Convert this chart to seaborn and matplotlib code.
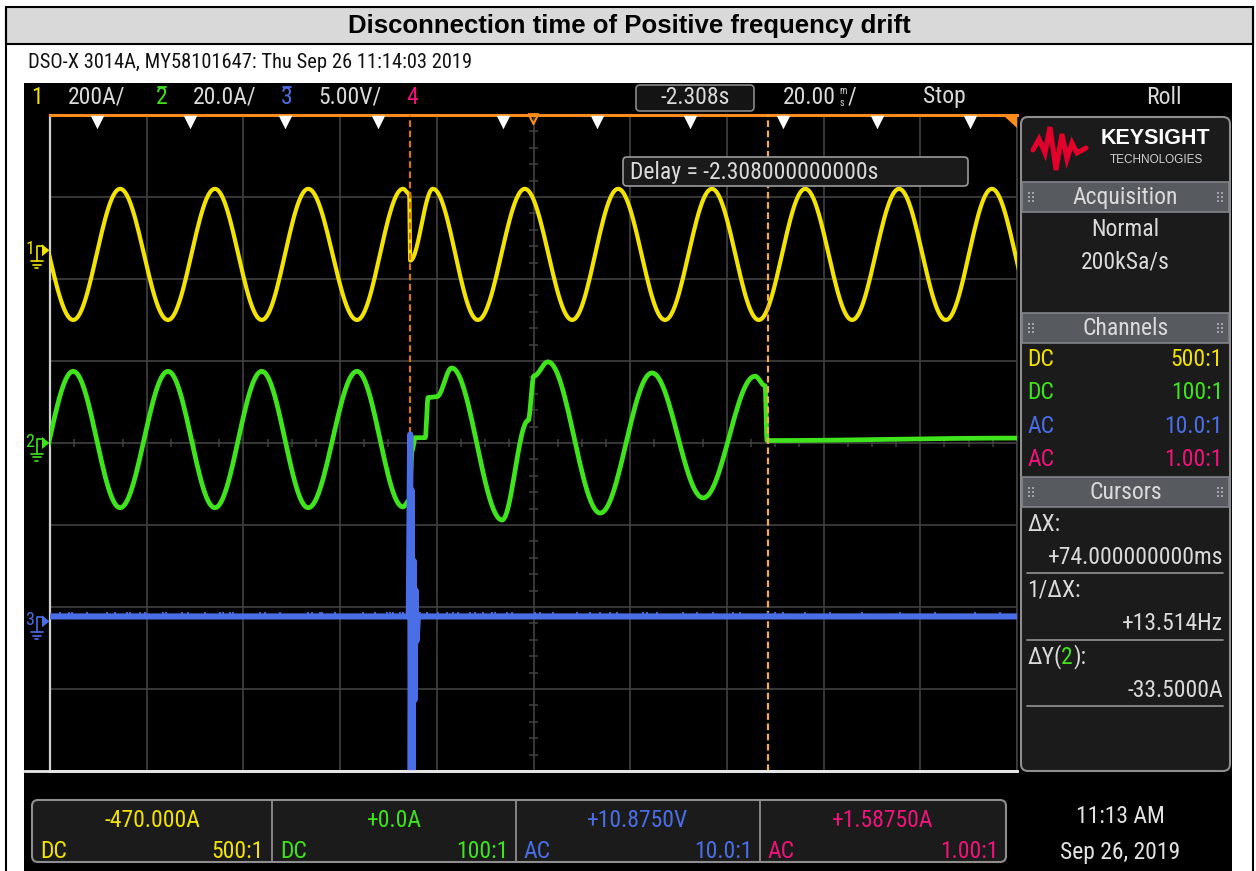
import numpy as np
import pandas as pd
import matplotlib
matplotlib.use("Agg")
import matplotlib.pyplot as plt
import seaborn as sns
from matplotlib import font_manager as fm
from matplotlib.patches import FancyBboxPatch, Rectangle, Polygon

# ---------------- instrument settings ----------------
title = "Disconnection time of Positive frequency drift"
header_text = "DSO-X 3014A, MY58101647: Thu Sep 26 11:14:03 2019"
clock_time = "11:13 AM"
clock_date = "Sep 26, 2019"

channels = ["1", "2", "3", "4"]
ch_colors = ["#f2e205", "#3fe41c", "#4a6ee6", "#f0157a"]
ch_units = ["A", "A", "V", "A"]
ch_scale = [200.0, 20.0, 5.0, 1.0]             # units per division
ch_scale_labels = ["200A/", "20.0A/", "5.00V/", ""]
ch_offset = [-470.0, 0.0, 10.875, 1.5875]      # value at screen centre
ch_offset_decimals = [3, 1, 4, 5]
ch_coupling = ["DC", "DC", "AC", "AC"]
ch_probe = ["500:1", "100:1", "10.0:1", "1.00:1"]

timebase_ms = 20.0
delay_s = -2.308
acq_mode = "Normal"
sample_rate = "200kSa/s"
run_state = "Stop"
sweep_mode = "Roll"
cursor_x1_ms = -25.6
cursor_x2_ms = 48.4
cursor_dy2 = -33.5

# ---------------- traces (turning points, time in ms) ----------------
# channel 1 (yellow, A)
ch1_t = [-105.2, -95.2, -85.5, -75.6, -65.9, -56.2, -46.6, -36.5, -27.0, -25.7,
         -25.5, -20.8, -11.5, -1.8, 8.0, 17.5, 27.2, 36.9, 46.6, 56.2, 65.9,
         75.6, 85.3, 94.8, 104.5]
ch1_v = [150, -170, 150, -170, 150, -170, 150, -170, 150, 138,
         -25, 150, -170, 150, -170, 150, -170, 150, -170, 150, -170,
         150, -170, 150, -170]

# channel 2 (green, A)
ch2_t = [-105.0, -95.2, -85.5, -75.6, -65.9, -56.2, -46.6, -36.5, -27.0, -25.7,
         -25.1, -24.5, -22.4, -21.8, -20.0, -16.9, -6.5, -1.1, 0.1, 3.0, 13.8,
         24.5, 35.1, 45.8, 47.9, 48.3, 100.0]
ch2_v = [-15.8, 17.5, -15.8, 17.5, -15.8, 17.5, -15.8, 17.5, -15.6, -14.0,
         -1.8, 1.3, 1.3, 11.1, 11.3, 18.3, -18.8, 5.5, 16.4, 19.8, -17.1,
         17.1, -13.4, 16.3, 14.0, 0.6, 1.2]

# channel 3 (blue, V): resting level, transient at the disconnection, glitches
ch3_level = 0.3
ch3_burst_t = [-25.8, -25.5, -25.4, -25.2, -25.0, -24.8, -24.6, -24.4, -24.2, -23.9]
ch3_burst_v = [0.3, 11.4, -12.0, 8.0, -10.0, 3.7, -4.8, 1.9, -1.2, 0.3]
ch3_glitch_t = [-97.9, -96.1, -95.5, -92.4, -88.2, -86.6, -84.1, -83.5, -81.4, -80.4,
                -76.6, -76.0, -72.7, -71.5, -68.0, -64.8, -64.2, -62.8, -62.2, -56.6,
                -55.5, -52.4, -46.6, -45.8, -44.1, -43.7, -41.1, -35.3, -32.8, -30.3,
                -29.7, -29.1, -27.6, -27.0, -23.5, -22.0, -19.8, -17.9, -16.7, -15.6,
                -13.2, -12.1, -10.4, -8.6, -8.0, -5.5, -4.4, 0.3, 1.3, 4.0, 9.0,
                11.7, 13.8, 15.8, 17.3, 22.6, 23.5, 25.5, 30.9, 33.8, 37.1, 41.3,
                42.7, 48.5, 50.0, 51.6, 56.2, 61.3, 68.0, 75.8, 83.0, 91.3, 96.5]
ch3_glitch_h = 0.3

# markers along the top edge (ms)
edge_marks_t = [-90.3, -71.0, -51.4, -32.1, -6.3, 13.2, 32.4, 51.6, 71.0, 90.3]

# ---------------- look ----------------
W, H = 1256, 871
GX0, GX1, GY0, GY1 = 50, 1017, 115, 771
NDY = 8
DIV_Y = (GY1 - GY0) / NDY
GYC = (GY0 + GY1) / 2
TXT = "#dadada"
GRID = "#404040"
ORANGE = "#ff8c1a"

sns.set_theme(style="dark", rc={"axes.facecolor": "black", "figure.facecolor": "white"})
plt.rcParams["font.family"] = ["DejaVu Sans"]


def find_narrow():
    names = {f.name for f in fm.fontManager.ttflist}
    for n in ["Liberation Sans Narrow", "Roboto Condensed", "Open Sans Condensed",
              "DejaVu Sans Condensed", "Noto Sans Condensed"]:
        if n in names:
            return {"family": n}, 1.0
    for f in fm.fontManager.ttflist:
        if f.name in ("DejaVu Sans", "Roboto", "Open Sans", "Noto Sans", "Liberation Sans") \
                and str(f.stretch) in ("condensed", "semi-condensed", "extra-condensed"):
            return {"family": f.name, "fontstretch": f.stretch}, 0.92
    return {"family": "Liberation Sans"}, 0.82


NARROW, FS = find_narrow()

fig = plt.figure(figsize=(W / 100, H / 100), dpi=100, facecolor="white")


def px_axes(z):
    a = fig.add_axes([0, 0, 1, 1], zorder=z)
    a.set_xlim(0, W)
    a.set_ylim(H, 0)
    a.axis("off")
    a.patch.set_alpha(0)
    return a


bg = px_axes(0)
fg = px_axes(10)


def label(ax, x, y, s, color=TXT, size=17, ha="left", va="center", **kw):
    return ax.text(x, y, s, color=color, fontsize=size * FS, ha=ha, va=va, **NARROW, **kw)


def label_seq(ax, x, y, parts, size=17):
    r = fig.canvas.get_renderer()
    for s, c in parts:
        t = label(ax, x, y, s, color=c, size=size)
        x += t.get_window_extent(renderer=r).width
    return x


# ---------------- page frame and title ----------------
bg.add_patch(Rectangle((6, 7), 1247, 37, fc="#d9d9d9", ec="black", lw=1.5))
bg.plot([6, 6], [7, H], color="black", lw=1.5)
bg.plot([1253, 1253], [7, H], color="black", lw=1.5)
bg.text(629.5, 25.5, title, ha="center", va="center", fontsize=18.5,
        fontweight="bold", family="Liberation Sans", color="black")
label(bg, 28, 63, header_text, color="#111111", size=14.8)
bg.add_patch(Rectangle((24, 83), 1208, H - 83, fc="black", ec="none"))

# ---------------- top status line ----------------
HY = 97
for i, ch in enumerate(channels):
    label(fg, 37 + 125 * i, HY, ch, color=ch_colors[i], ha="center")
    if i in (1, 2):
        fg.plot([33 + 125 * i, 41 + 125 * i], [87, 87], color=ch_colors[i], lw=1.3)
    if ch_scale_labels[i]:
        label(fg, 68 + 125 * i, HY, ch_scale_labels[i])

fg.add_patch(FancyBboxPatch((636, 85), 118, 26, boxstyle="round,pad=0,rounding_size=4",
                            fc="#141414", ec="#8a8a8a", lw=1.2))
label(fg, 695, HY, f"{delay_s:.3f}s", ha="center")
r = fig.canvas.get_renderer()
tb = label(fg, 783, HY, f"{timebase_ms:.2f}")
xe = 783 + tb.get_window_extent(renderer=r).width
# stacked "ms" unit
label(fg, xe + 3, HY - 6, "m", size=7.2, va="center")
label(fg, xe + 4, HY + 6, "s", size=7.2, va="center")
label(fg, xe + 12, HY, "/")
label(fg, 923, HY, run_state)
label(fg, 1182, HY, sweep_mode, ha="right")

# ---------------- graticule ----------------
sc = fig.add_axes([GX0 / W, 1 - GY1 / H, (GX1 - GX0) / W, (GY1 - GY0) / H], zorder=5)
sc.set_facecolor("black")
sc.set_xlim(-100, 100)
sc.set_ylim(-4, 4)
sc.set_xticks(np.arange(-100, 101, 20))
sc.set_yticks(np.arange(-4, 5, 1))
sc.grid(True, color=GRID, lw=1.2)
sc.set_axisbelow(True)
sc.tick_params(length=0, labelbottom=False, labelleft=False)
for side, col, lw in [("left", "#cfcfcf", 1.6), ("bottom", "#e6e6e6", 2.0),
                      ("top", ORANGE, 2.2), ("right", GRID, 1.2)]:
    sc.spines[side].set_color(col)
    sc.spines[side].set_linewidth(lw)
    sc.spines[side].set_visible(True)

minor_x = [t for t in np.arange(-97.5, 100, 2.5) if abs(t % 20) > 1e-6 and abs(t % 5) < 1e-6]
sc.vlines(minor_x, -0.045, 0.045, color=GRID, lw=1.1, zorder=1)
minor_y = [v for v in np.arange(-3.8, 4.0, 0.2) if abs(v - round(v)) > 1e-6]
sc.hlines(minor_y, -0.9, 0.9, color=GRID, lw=1.1, zorder=1)


def smooth(knot_t, knot_v, n=28):
    ts, vs = [], []
    for i in range(len(knot_t) - 1):
        s = np.linspace(0, 1, n, endpoint=False)
        e = (1 - np.cos(np.pi * s)) / 2
        ts.append(knot_t[i] + (knot_t[i + 1] - knot_t[i]) * s)
        vs.append(knot_v[i] + (knot_v[i + 1] - knot_v[i]) * e)
    ts.append([knot_t[-1]])
    vs.append([knot_v[-1]])
    return np.concatenate(ts), np.concatenate(vs)


def to_div(v, ch):
    return (np.asarray(v, dtype=float) - ch_offset[ch]) / ch_scale[ch]


def draw_trace(t, v, ch, lw, z):
    df = pd.DataFrame({"time_ms": t, "divisions": to_div(v, ch)})
    sns.lineplot(data=df, x="time_ms", y="divisions", ax=sc, color=ch_colors[ch],
                 linewidth=lw, sort=False, estimator=None, legend=False, zorder=z,
                 solid_joinstyle="round", solid_capstyle="round")


t1, v1 = smooth(ch1_t, ch1_v)
draw_trace(t1, v1, 0, 3.0, 3)
t2, v2 = smooth(ch2_t, ch2_v)
draw_trace(t2, v2, 1, 3.4, 3)

t3 = [-100.0] + ch3_burst_t + [100.0]
v3 = [ch3_level] + ch3_burst_v + [ch3_level]
draw_trace(t3, v3, 2, 4.4, 6)
g0 = to_div(ch3_level, 2)
g1 = to_div(ch3_level + ch3_glitch_h, 2)
sc.vlines(ch3_glitch_t, g0, g1, color=ch_colors[2], lw=1.3, zorder=6)
sc.set_xlabel("")
sc.set_ylabel("")

# cursors
sc.axvline(cursor_x1_ms, color="#d8740f", lw=1.6, ls=(0, (3, 1.6)), zorder=4)
sc.axvline(cursor_x2_ms, color="#f7a94d", lw=1.6, ls=(0, (3, 1.6)), zorder=4)

# top edge markers
sc.scatter(edge_marks_t, [3.91] * len(edge_marks_t), marker="v", s=95, color="white",
           linewidths=0, clip_on=False, zorder=20)
sc.scatter([0], [3.95], marker="v", s=50, facecolors="none", edgecolors=ORANGE,
           linewidths=1.5, clip_on=False, zorder=20)
fg.add_patch(Polygon([[1004, 116], [1017, 116], [1017, 128]], closed=True, fc=ORANGE, ec="none"))
fg.plot([24, GX1], [GY1, GY1], color="#e6e6e6", lw=2.0)

# delay readout
fg.add_patch(FancyBboxPatch((623, 157), 345, 29, boxstyle="round,pad=0,rounding_size=4",
                            fc="#1a1a1a", ec="#9a9a9a", lw=1.2))
label(fg, 630, 172, f"Delay = {delay_s:.12f}s")

# ground reference markers
for i in range(3):
    gy = GYC - (0 - ch_offset[i]) / ch_scale[i] * DIV_Y
    c = ch_colors[i]
    label(fg, 30, gy - 1, channels[i], color=c, size=13, ha="center")
    fg.plot([36.5, 36.5, 43], [gy + 11, gy - 4, gy - 4], color=c, lw=1.2)
    fg.add_patch(Polygon([[42, gy - 6], [42, gy + 6], [49.5, gy]], closed=True, fc=c, ec="none"))
    for k, hw in enumerate([6, 4, 1.8]):
        fg.plot([36.5 - hw, 36.5 + hw], [gy + 11 + 3.4 * k] * 2, color=c, lw=1.2)

# ---------------- side panel ----------------
PX0, PX1 = 1021, 1230
fg.add_patch(FancyBboxPatch((PX0, 117), PX1 - PX0, 654, boxstyle="round,pad=0,rounding_size=7",
                            fc="#1b1b1b", ec="#8e8e8e", lw=1.5))
fg.plot([1033, 1039, 1045, 1050, 1056, 1062, 1067, 1072, 1077, 1086],
        [150, 139, 153, 127, 170, 134, 159, 143, 153, 148],
        color="#e4002b", lw=3.6, solid_joinstyle="miter")
fg.text(1155, 139, "KEYSIGHT", ha="center", va="center", fontsize=15.5, fontweight="bold",
        family="Liberation Sans", color="white")
fg.text(1156, 160, "TECHNOLOGIES", ha="center", va="center", fontsize=8.5,
        family="Liberation Sans", color="#d0d0d0")


def section(y0, name):
    fg.add_patch(Rectangle((PX0 + 1, y0), PX1 - PX0 - 2, 30, fc="#575b5f", ec="#80858a", lw=1.2))
    label(fg, (PX0 + PX1) / 2, y0 + 15, name, ha="center")
    gx, gy = [], []
    for cx in (PX0 + 10, PX1 - 10):
        for dx in (-2, 2):
            for dy in (-4, 0, 4):
                gx.append(cx + dx)
                gy.append(y0 + 15 + dy)
    fg.scatter(gx, gy, s=2.0, color="#a0a4a8", marker="s", linewidths=0)


section(182, "Acquisition")
label(fg, 1125, 229, acq_mode, ha="center")
label(fg, 1125, 262, sample_rate, ha="center")

section(313, "Channels")
for i, yy in enumerate([359, 392, 426, 459]):
    label(fg, 1027, yy, ch_coupling[i], color=ch_colors[i])
    label(fg, 1223, yy, ch_probe[i], color=ch_colors[i], ha="right")

section(477, "Cursors")
dx_ms = cursor_x2_ms - cursor_x1_ms
label(fg, 1027, 524, "ΔX:")
label(fg, 1223, 557, f"{dx_ms:+.9f}ms", ha="right")
fg.plot([1027, 1223], [573, 573], color="#8a8a8a", lw=1.3)
label(fg, 1027, 590, "1/ΔX:")
label(fg, 1223, 623, f"{1000.0 / dx_ms:+.3f}Hz", ha="right")
fg.plot([1027, 1223], [640, 640], color="#8a8a8a", lw=1.3)
label_seq(fg, 1027, 657, [("ΔY(", TXT), ("2", ch_colors[1]), ("):", TXT)])
label(fg, 1223, 690, f"{cursor_dy2:.4f}A", ha="right")
fg.plot([1027, 1223], [706, 706], color="#8a8a8a", lw=1.3)

# ---------------- bottom channel readouts ----------------
cells = [32, 272, 516, 760, 1006]
fg.add_patch(FancyBboxPatch((32, 800), 974, 62, boxstyle="round,pad=0,rounding_size=6",
                            fc="#1b1b1b", ec="#8e8e8e", lw=1.5))
for i in range(4):
    x0, x1 = cells[i], cells[i + 1]
    if i > 0:
        fg.plot([x0, x0], [800, 862], color="#8e8e8e", lw=1.3)
    c = ch_colors[i]
    off = f"{ch_offset[i]:+.{ch_offset_decimals[i]}f}{ch_units[i]}"
    label(fg, (x0 + x1) / 2, 820, off, color=c, ha="center")
    label(fg, x0 + 8, 851, ch_coupling[i], color=c)
    label(fg, x1 - 8, 851, ch_probe[i], color=c, ha="right")

label(fg, 1120, 816, clock_time, ha="center", color="#e2e2e2")
label(fg, 1120, 852, clock_date, ha="center", color="#e2e2e2")

fig.savefig("out.png", dpi=100, facecolor="white")
